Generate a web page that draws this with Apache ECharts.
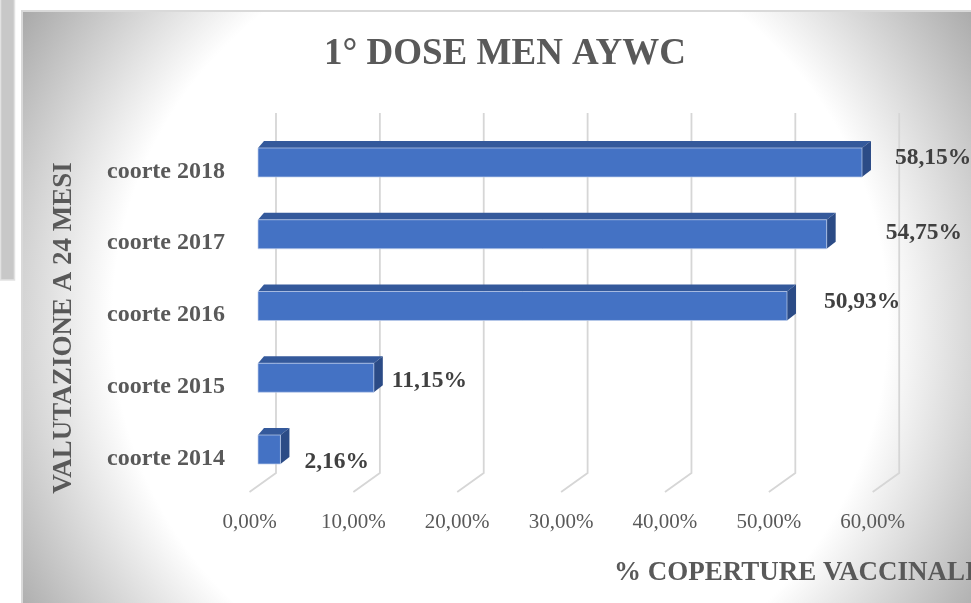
<!DOCTYPE html>
<html>
<head>
<meta charset="utf-8">
<script src="https://cdn.jsdelivr.net/npm/echarts@6/dist/echarts.min.js"></script>
<style>
  html, body { margin: 0; padding: 0; background: #fff; }
  #main { width: 971px; height: 603px; }
</style>
</head>
<body>
<div id="main"></div>
<script>
// dati del grafico
const categories = ['coorte 2014', 'coorte 2015', 'coorte 2016', 'coorte 2017', 'coorte 2018'];
const coverage = [2.16, 11.15, 50.93, 54.75, 58.15];
const ticks = [0, 10, 20, 30, 40, 50, 60];

// spostamento manuale delle etichette (come in Excel), in px
const labelShift = [[24, 12], [18, 3.5], [37, -4.5], [59, -1.5], [33, -5]];

const serif = 'Liberation Serif, Times New Roman, serif';
const fmt = (v) => v.toFixed(2).replace('.', ',') + '%';

const chart = echarts.init(document.getElementById('main'));

const option = {
  backgroundColor: '#fff',
  animation: false,
  title: {
    text: '1° DOSE MEN AYWC',
    left: 319,
    top: 31,
    textStyle: { fontFamily: serif, fontWeight: 'bold', fontSize: 37, color: '#595959' },
  },
  graphic: [
    {
      type: 'rect',
      z: -100,
      silent: true,
      shape: { x: 0.5, y: -1, width: 14, height: 281 },
      style: { fill: '#c8c8c8', stroke: '#e2e2e2', lineWidth: 1.5 },
    },
    {
      type: 'rect',
      z: -100,
      silent: true,
      shape: { x: 22, y: 11, width: 960, height: 620 },
      style: {
        fill: {
          type: 'radial',
          x: 500,
          y: 320,
          r: 570,
          global: true,
          colorStops: [
            { offset: 0, color: '#ffffff' },
            { offset: 0.68, color: '#ffffff' },
            { offset: 1, color: '#a8a8a8' },
          ],
        },
        stroke: '#d9d9d9',
        lineWidth: 2,
      },
    },
    {
      type: 'text',
      z: 100,
      x: 64,
      y: 328,
      rotation: Math.PI / 2,
      style: {
        text: 'VALUTAZIONE A 24 MESI',
        align: 'center',
        verticalAlign: 'middle',
        font: 'bold 27px ' + serif,
        fill: '#595959',
      },
    },
    {
      type: 'text',
      z: 100,
      x: 614,
      y: 573,
      style: {
        text: '% COPERTURE VACCINALI',
        align: 'left',
        verticalAlign: 'middle',
        font: 'bold 27px ' + serif,
        fill: '#595959',
      },
    },
  ],
  grid: { left: 258, top: 126.6, width: 623.2, height: 358.8 },
  xAxis: {
    type: 'value',
    min: 0,
    max: 60,
    interval: 10,
    axisLine: { show: false },
    axisTick: { show: false },
    splitLine: { show: false },
    axisLabel: {
      formatter: fmt,
      fontFamily: serif,
      fontSize: 21,
      color: '#595959',
      margin: 27,
      padding: [0, 17, 0, 0],
    },
  },
  yAxis: {
    type: 'category',
    data: categories,
    axisLine: { show: false },
    axisTick: { show: false },
    axisLabel: {
      fontFamily: serif,
      fontWeight: 'bold',
      fontSize: 24,
      color: '#595959',
      margin: 33,
      verticalAlign: 'top',
      lineHeight: 18,
    },
  },
  series: [
    {
      // griglia in prospettiva (parete di fondo + pavimento)
      type: 'custom',
      silent: true,
      z: 1,
      data: ticks.map((t) => [t, 0]),
      renderItem(params, api) {
        const p = api.coord([api.value(0), 0]);
        const cs = params.coordSys;
        const x = p[0];
        const bottom = cs.y + cs.height;
        return {
          type: 'polyline',
          shape: {
            points: [
              [x + 18, cs.y - 13.6],
              [x + 18, bottom - 12.4],
              [x - 8.5, bottom + 6.6],
            ],
          },
          style: { stroke: '#d6d6d6', lineWidth: 1.8, fill: null },
        };
      },
    },
    {
      // barre 3D
      type: 'custom',
      z: 3,
      data: coverage.map((v, i) => [v, i]),
      renderItem(params, api) {
        const v = api.value(0);
        const idx = api.value(1);
        const end = api.coord([v, idx]);
        const start = api.coord([0, idx]);
        const h = api.size([0, 1])[1] * 0.404;
        const x0 = start[0];
        const x1 = end[0];
        const yT = end[1] - h / 2;
        const yB = end[1] + h / 2;
        const dx = 9;
        const dy = 7;
        const sh = labelShift[params.dataIndex];
        return {
          type: 'group',
          children: [
            {
              type: 'polygon',
              shape: { points: [[x0, yT], [x1, yT], [x1 + dx, yT - dy], [x0 + dx - 3, yT - dy]] },
              style: { fill: '#34599b' },
            },
            {
              type: 'polygon',
              shape: { points: [[x1, yT], [x1 + dx, yT - dy], [x1 + dx, yB - dy], [x1, yB]] },
              style: { fill: '#2b4b86' },
            },
            {
              type: 'rect',
              shape: { x: x0, y: yT, width: x1 - x0, height: h },
              style: { fill: '#4472c4', stroke: 'rgba(190,205,235,0.7)', lineWidth: 1 },
            },
            {
              type: 'text',
              x: x1 + sh[0],
              y: end[1] + sh[1],
              style: {
                text: fmt(v),
                align: 'left',
                verticalAlign: 'middle',
                font: 'bold 23.5px ' + serif,
                fill: '#404040',
              },
            },
          ],
        };
      },
    },
  ],
};

chart.setOption(option);
</script>
</body>
</html>
